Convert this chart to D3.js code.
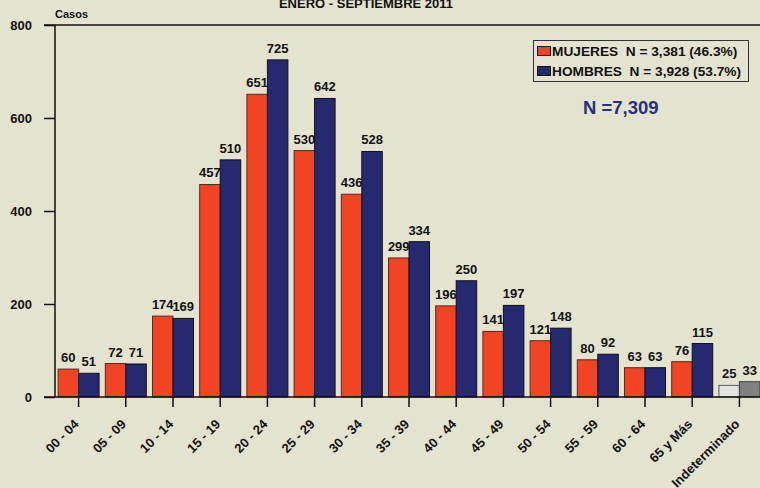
<!DOCTYPE html>
<html><head><meta charset="utf-8">
<script src="https://cdn.jsdelivr.net/npm/d3@7"></script>
<style>
body{margin:0;background:#E4E3D0;}
svg{display:block;font-family:"Liberation Sans",Arial,sans-serif;font-weight:bold;}
</style></head><body>
<svg id="c" width="760" height="488"></svg>
<script>
const categories = ["00 - 04","05 - 09","10 - 14","15 - 19","20 - 24","25 - 29","30 - 34","35 - 39","40 - 44","45 - 49","50 - 54","55 - 59","60 - 64","65 y Más","Indeterminado"];
const mujeres = [60,72,174,457,651,530,436,299,196,141,121,80,63,76,25];
const hombres = [51,71,169,510,725,642,528,334,250,197,148,92,63,115,33];
const yTicks = [0,200,400,600,800];
const legendLabels = ["MUJERES\u00A0\u00A0N = 3,381 (46.3%)","HOMBRES\u00A0\u00A0N = 3,928 (53.7%)"];

const svg = d3.select("#c");
svg.append("rect").attr("width",760).attr("height",488).attr("fill","#E4E3D0");

const x0 = 55, x1 = 55 + 47.2*15;
const x = d3.scaleBand().domain(categories).range([x0,x1]).paddingInner(0).paddingOuter(0);
const y = d3.scaleLinear().domain([0,800]).range([397,25]);
const bw = 20.5;

const red = "#F24324", blue = "#262870";
const colM = (i)=> i===14 ? "#E2E2E2" : red;
const colH = (i)=> i===14 ? "#808080" : blue;

// title
svg.append("text").attr("x",366).attr("y",7.5).attr("text-anchor","middle")
  .attr("font-size",13).attr("fill","#111").text("ENERO - SEPTIEMBRE 2011");
svg.append("text").attr("x",55).attr("y",18).attr("font-size",11).attr("fill","#111").text("Casos");

// bars
const g = svg.append("g");
categories.forEach((c,i)=>{
  const cx = x(c) + x.bandwidth()/2;
  g.append("rect").attr("x",cx-bw).attr("y",y(mujeres[i])).attr("width",bw).attr("height",y(0)-y(mujeres[i]))
    .attr("fill",colM(i)).attr("stroke", i===14?"#555":"#5a2a1a").attr("stroke-width",1);
  g.append("rect").attr("x",cx).attr("y",y(hombres[i])).attr("width",bw).attr("height",y(0)-y(hombres[i]))
    .attr("fill",colH(i)).attr("stroke", i===14?"#444":"#111").attr("stroke-width",1);
  g.append("text").attr("x",cx-bw/2).attr("y",y(mujeres[i])-7).attr("text-anchor","middle")
    .attr("font-size",13).attr("fill","#111").text(mujeres[i]);
  g.append("text").attr("x",cx+bw/2).attr("y",y(hombres[i])-7).attr("text-anchor","middle")
    .attr("font-size",13).attr("fill","#111").text(hombres[i]);
});

// y axis
const ya = svg.append("g").attr("transform",`translate(${x0},0)`)
  .call(d3.axisLeft(y).tickValues(yTicks).tickSize(11).tickPadding(12).tickFormat(d3.format("d")));
ya.select(".domain").attr("stroke","#111").attr("stroke-width",1.5).attr("d",`M0,${y(800)}V${y(0)}`);
ya.selectAll(".tick line").attr("stroke","#111").attr("stroke-width",1.5);
ya.selectAll(".tick text").attr("font-size",13).attr("font-weight","bold").attr("fill","#111")
  .attr("font-family","Liberation Sans, Arial, sans-serif");
svg.append("line").attr("x1",x0-11).attr("x2",760).attr("y1",y(800)).attr("y2",y(800)).attr("stroke","#111").attr("stroke-width",1.5);

// x axis
const xa = svg.append("g").attr("transform",`translate(0,${y(0)})`)
  .call(d3.axisBottom(x).tickSize(10).tickSizeOuter(0));
xa.select(".domain").attr("stroke","#111").attr("stroke-width",1.5).attr("d",`M${x0-11},0H760`);
xa.selectAll(".tick line").attr("stroke","#111").attr("stroke-width",1.5);
xa.selectAll(".tick text").attr("font-size",13).attr("font-weight","bold").attr("fill","#111")
  .attr("font-family","Liberation Sans, Arial, sans-serif")
  .attr("text-anchor","end").attr("y",0).attr("dy",0).attr("transform","translate(1,28) rotate(-45)");

// legend
const lg = svg.append("g");
lg.append("rect").attr("x",533.5).attr("y",40.5).attr("width",215).attr("height",41)
  .attr("fill","#E4E3D0").attr("stroke","#333").attr("stroke-width",1);
[red,blue].forEach((c,i)=>{
  lg.append("rect").attr("x",537.5).attr("y",46.5+i*20).attr("width",13).attr("height",9)
    .attr("fill",c).attr("stroke","#111");
  lg.append("text").attr("x",552).attr("y",56+i*20).attr("font-size",13.7).attr("fill","#111").text(legendLabels[i]);
});
svg.append("text").attr("x",583).attr("y",114).attr("font-size",18.5).attr("fill","#2B2F7E").text("N =7,309");
</script></body></html>
